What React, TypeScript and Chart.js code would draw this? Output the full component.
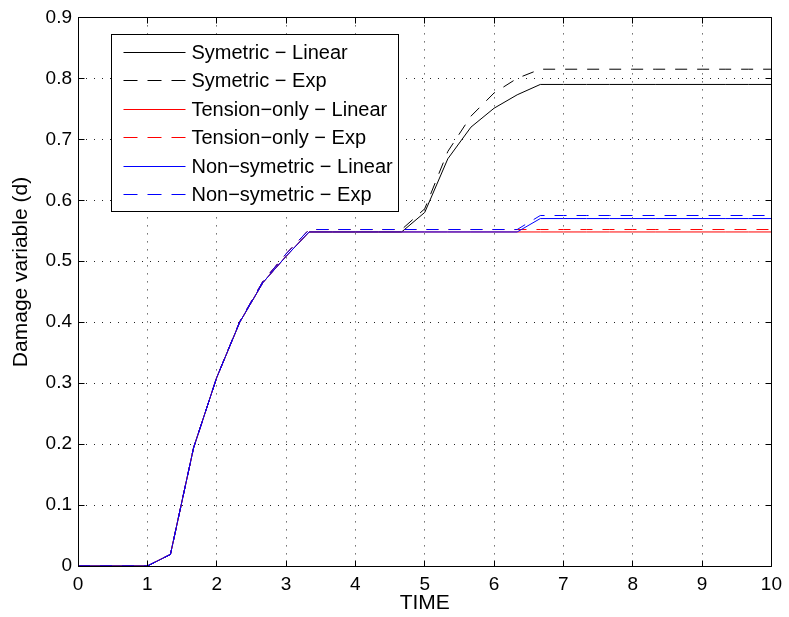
import React, { useEffect, useRef } from 'react';
import { Chart, registerables } from 'chart.js';

Chart.register(...registerables);

const TIME = [0, 0.333, 0.667, 1, 1.333, 1.667, 2, 2.333, 2.667, 3, 3.333, 3.667, 4, 4.333, 4.667, 5, 5.333, 5.667, 6, 6.333, 6.667, 7, 7.333, 7.667, 8, 8.333, 8.667, 9, 9.333, 9.667, 10];

const SYM_LINEAR = [0, 0, 0, 0, 0.019, 0.194, 0.309, 0.4, 0.465, 0.508, 0.548, 0.548, 0.548, 0.548, 0.548, 0.58, 0.668, 0.72, 0.751, 0.773, 0.79, 0.79, 0.79, 0.79, 0.79, 0.79, 0.79, 0.79, 0.79, 0.79, 0.79];
const SYM_EXP = [0, 0, 0, 0, 0.019, 0.194, 0.309, 0.401, 0.467, 0.512, 0.552, 0.552, 0.552, 0.552, 0.552, 0.586, 0.68, 0.738, 0.776, 0.8, 0.815, 0.815, 0.815, 0.815, 0.815, 0.815, 0.815, 0.815, 0.815, 0.815, 0.815];
const TEN_LINEAR = [0, 0, 0, 0, 0.019, 0.194, 0.309, 0.4, 0.465, 0.508, 0.548, 0.548, 0.548, 0.548, 0.548, 0.548, 0.548, 0.548, 0.548, 0.548, 0.548, 0.548, 0.548, 0.548, 0.548, 0.548, 0.548, 0.548, 0.548, 0.548, 0.548];
const TEN_EXP = [0, 0, 0, 0, 0.019, 0.194, 0.309, 0.401, 0.467, 0.512, 0.552, 0.552, 0.552, 0.552, 0.552, 0.552, 0.552, 0.552, 0.552, 0.552, 0.552, 0.552, 0.552, 0.552, 0.552, 0.552, 0.552, 0.552, 0.552, 0.552, 0.552];
const NON_LINEAR = [0, 0, 0, 0, 0.019, 0.194, 0.309, 0.4, 0.465, 0.508, 0.548, 0.548, 0.548, 0.548, 0.548, 0.548, 0.548, 0.548, 0.548, 0.548, 0.57, 0.57, 0.57, 0.57, 0.57, 0.57, 0.57, 0.57, 0.57, 0.57, 0.57];
const NON_EXP = [0, 0, 0, 0, 0.019, 0.194, 0.309, 0.401, 0.467, 0.512, 0.552, 0.552, 0.552, 0.552, 0.552, 0.552, 0.552, 0.552, 0.552, 0.552, 0.575, 0.575, 0.575, 0.575, 0.575, 0.575, 0.575, 0.575, 0.575, 0.575, 0.575];

const LABELS = [
  'Symetric \u2212 Linear',
  'Symetric \u2212 Exp',
  'Tension\u2212only \u2212 Linear',
  'Tension\u2212only \u2212 Exp',
  'Non\u2212symetric \u2212 Linear',
  'Non\u2212symetric \u2212 Exp',
];
const COLORS = ['#000000', '#000000', '#ff0000', '#ff0000', '#0000ff', '#0000ff'];
const DASHED = [false, true, false, true, false, true];
const SERIES = [SYM_LINEAR, SYM_EXP, TEN_LINEAR, TEN_EXP, NON_LINEAR, NON_EXP];

const X_TICKS = [0, 1, 2, 3, 4, 5, 6, 7, 8, 9, 10];
const Y_TICKS = [0, 0.1, 0.2, 0.3, 0.4, 0.5, 0.6, 0.7, 0.8, 0.9];
const X_TITLE = 'TIME';
const Y_TITLE = 'Damage variable (d)';

const FONT = "'Liberation Sans', Arial, Helvetica, sans-serif";

const toXY = (ys: number[]) => ys.map((v, i) => ({ x: TIME[i], y: v }));

const px = (v: number) => Math.floor(v) + 0.5;

const framePlugin = {
  id: 'frameAndLegend',
  afterDatasetsDraw(chart: any) {
    const { ctx, chartArea: a, scales } = chart;
    const xs = scales.x;
    const ys = scales.y;
    ctx.save();
    ctx.setLineDash([]);
    ctx.strokeStyle = '#000';
    ctx.lineWidth = 1;
    const L = px(a.left), R = px(a.right), T = px(a.top), B = px(a.bottom);
    ctx.beginPath();
    ctx.rect(L, T, R - L, B - T);
    ctx.stroke();
    const tl = 6;
    ctx.beginPath();
    X_TICKS.forEach((t) => {
      const x = px(xs.getPixelForValue(t));
      ctx.moveTo(x, B); ctx.lineTo(x, B - tl);
      ctx.moveTo(x, T); ctx.lineTo(x, T + tl);
    });
    Y_TICKS.forEach((t) => {
      const y = px(ys.getPixelForValue(t));
      ctx.moveTo(L, y); ctx.lineTo(L + tl, y);
      ctx.moveTo(R, y); ctx.lineTo(R - tl, y);
    });
    ctx.stroke();

    // legend box
    const bx = px(a.left + 33), by = px(a.top + 17);
    const bw = 287, bh = 177;
    ctx.fillStyle = '#fff';
    ctx.fillRect(bx, by, bw, bh);
    ctx.strokeStyle = '#000';
    ctx.strokeRect(bx, by, bw, bh);
    ctx.font = `20px ${FONT}`;
    ctx.textBaseline = 'middle';
    ctx.textAlign = 'left';
    LABELS.forEach((label, i) => {
      const y = Math.round(by + 17.5 + i * 28.45) + 0.5;
      ctx.strokeStyle = COLORS[i];
      ctx.lineWidth = 1;
      ctx.setLineDash(DASHED[i] ? [14, 10] : []);
      ctx.beginPath();
      ctx.moveTo(bx + 12, y);
      ctx.lineTo(bx + 74, y);
      ctx.stroke();
      ctx.setLineDash([]);
      ctx.fillStyle = '#000';
      ctx.fillText(label, bx + 80, y + 1);
    });

    // y title
    ctx.save();
    ctx.translate(21, 272);
    ctx.rotate(-Math.PI / 2);
    ctx.font = `21px ${FONT}`;
    ctx.textAlign = 'center';
    ctx.textBaseline = 'middle';
    ctx.fillStyle = '#000';
    ctx.fillText(Y_TITLE, 0, 0);
    ctx.restore();
    ctx.restore();
  },
};

export default function App() {
  const ref = useRef<HTMLCanvasElement | null>(null);
  useEffect(() => {
    if (!ref.current) return;
    const datasets = SERIES.map((s, i) => ({
      label: LABELS[i],
      data: toXY(s),
      borderColor: COLORS[i],
      backgroundColor: COLORS[i],
      borderWidth: 1,
      borderDash: DASHED[i] ? [12, 10] : [],
      pointRadius: 0,
      fill: false,
      tension: 0,
      order: SERIES.length - i,
    }));
    const chart = new Chart(ref.current, {
      type: 'line',
      data: { datasets },
      options: {
        responsive: false,
        maintainAspectRatio: false,
        animation: false,
        layout: { padding: { top: 13, right: 12, left: 0, bottom: 0 } },
        plugins: { legend: { display: false }, tooltip: { enabled: false }, colors: { enabled: false } },
        scales: {
          x: {
            type: 'linear',
            min: 0,
            max: 10,
            afterFit: (s: any) => { s.height = 51; },
            afterBuildTicks: (s: any) => { s.ticks = X_TICKS.map((v) => ({ value: v })); },
            ticks: { color: '#000', font: { family: FONT, size: 19 }, padding: 7, maxRotation: 0, autoSkip: false },
            grid: { color: '#222', lineWidth: 1, drawTicks: false },
            border: { display: false, dash: [1, 7] },
            title: { display: true, text: X_TITLE, color: '#000', font: { family: FONT, size: 21 }, padding: { top: 0, bottom: 1 } },
          },
          y: {
            type: 'linear',
            min: 0,
            max: 0.9,
            afterFit: (s: any) => { s.width = 78; },
            afterBuildTicks: (s: any) => { s.ticks = Y_TICKS.map((v) => ({ value: v })); },
            ticks: { color: '#000', font: { family: FONT, size: 19 }, padding: 6, autoSkip: false },
            grid: { color: '#222', lineWidth: 1, drawTicks: false },
            border: { display: false, dash: [1, 7] },
          },
        },
      },
      plugins: [framePlugin],
    } as any);
    return () => chart.destroy();
  }, []);
  return (
    <div style={{ position: 'absolute', left: 0, top: 0, width: 789, height: 617, background: '#fff' }}>
      <canvas ref={ref} width={789} height={617} style={{ display: 'block' }} />
    </div>
  );
}
